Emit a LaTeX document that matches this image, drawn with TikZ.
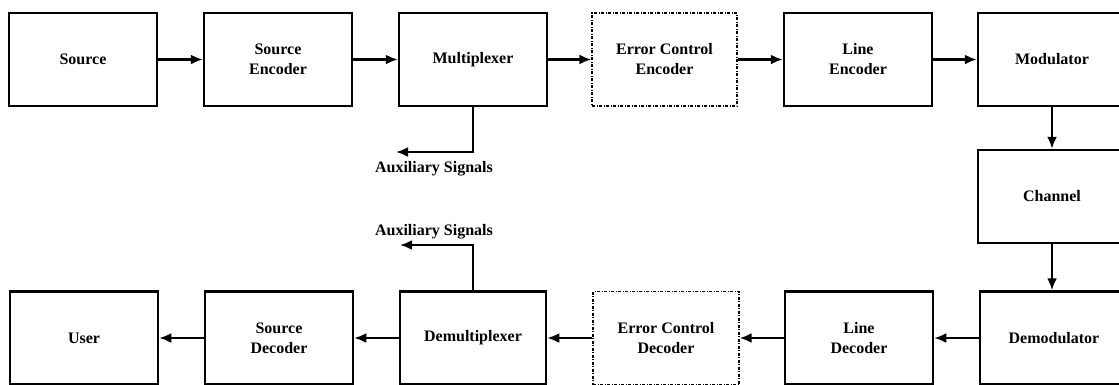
\documentclass[tikz,border=0pt]{standalone}
\usepackage{fontspec}
\setmainfont{Liberation Serif}
\usetikzlibrary{arrows.meta}
\begin{document}
\begin{tikzpicture}[x=1pt,y=-1pt,
  blk/.style={draw, line width=2.5pt, minimum width=148pt, minimum height=93pt,
    align=center, inner sep=0pt, font=\bfseries\fontsize{16}{20}\selectfont},
  dblk/.style={blk, line width=1.4pt, dash pattern=on 3pt off 1.5pt on 1pt off 1.5pt},
  arr/.style={line width=2.3pt, -{Latex[length=12pt,width=10pt]}},
  lbl/.style={font=\bfseries\fontsize{16}{18}\selectfont, inner sep=0pt}]
\useasboundingbox (0,0) rectangle (1119,384);
% top row
\node[blk] (src) at (83,59.5) {Source};
\node[blk] (senc) at (278,59.5) {Source\\Encoder};
\node[blk] (mux) at (473,59.5) {Multiplexer};
\node[dblk, minimum width=145pt] (ece) at (664.5,59.5) {Error Control\\Encoder};
\node[blk] (lenc) at (858,59.5) {Line\\Encoder};
\node[blk] (mod) at (1052,59.5) {Modulator};
% channel
\node[blk] (chan) at (1052,196.5) {Channel};
% bottom row
\node[blk] (dem) at (1054,338) {Demodulator};
\node[blk] (ldec) at (859,338) {Line\\Decoder};
\node[dblk, minimum width=146pt] (ecd) at (666,338) {Error Control\\Decoder};
\node[blk, minimum width=146pt] (demux) at (473,338) {Demultiplexer};
\node[blk] (sdec) at (279,338) {Source\\Decoder};
\node[blk] (user) at (84,338) {User};
% auxiliary
\coordinate (auxA) at (396,152);
\coordinate (auxB) at (400,245);
\node[lbl] (auxlabA) at (434,168.5) {Auxiliary Signals};
\node[lbl] (auxlabB) at (434,232) {Auxiliary Signals};
% connectors
\draw[arr] (src) -- (senc);
\draw[arr] (senc) -- (mux);
\draw[arr] (mux) -- (ece);
\draw[arr] (ece) -- (lenc);
\draw[arr] (lenc) -- (mod);
\draw[arr] (mod) -- (chan);
\draw[arr] (chan.south) -- (chan.south |- dem.north);
\draw[arr] (dem.west |- ldec.east) -- (ldec);
\draw[arr] (ldec) -- (ecd);
\draw[arr] (ecd) -- (demux);
\draw[arr] (demux) -- (sdec);
\draw[arr] (sdec) -- (user);
\draw[arr] (mux.south) |- (auxA);
\draw[arr] (demux.north) |- (auxB);
\end{tikzpicture}
\end{document}
